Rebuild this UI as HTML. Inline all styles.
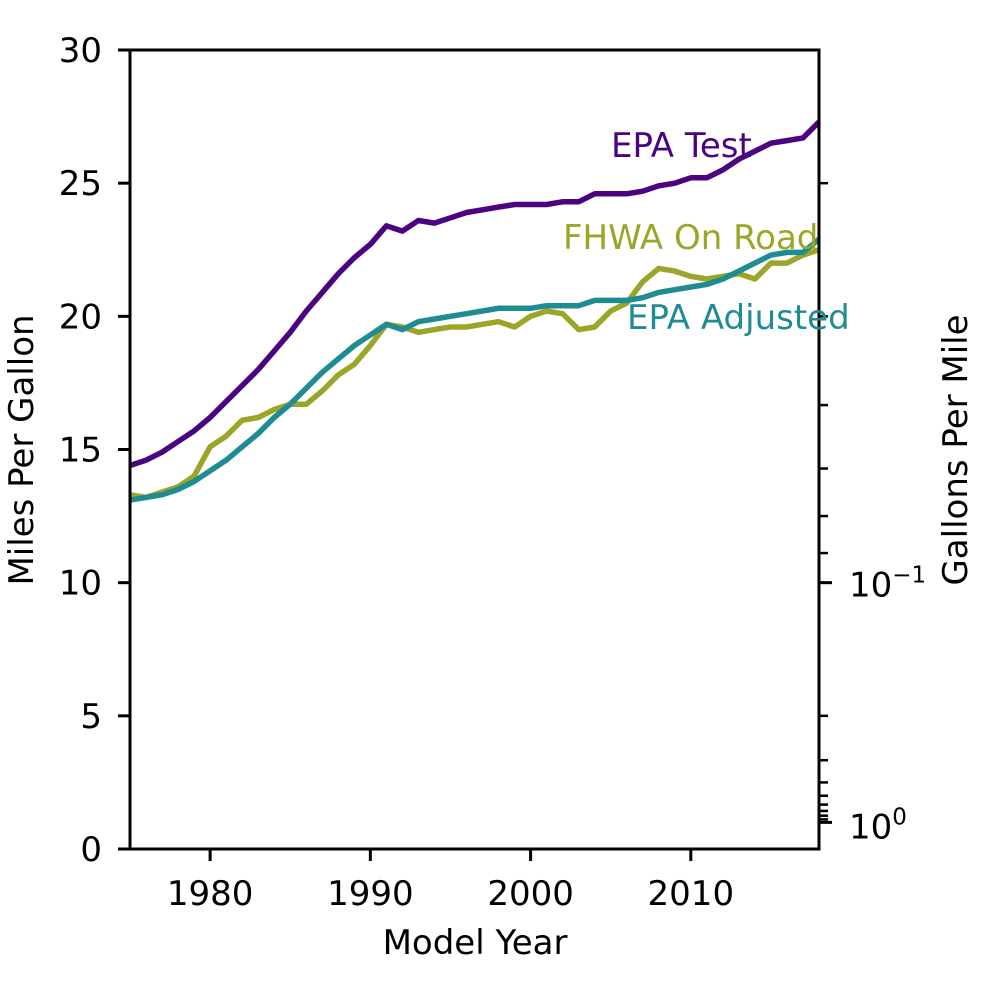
<!DOCTYPE html>
<html><head><meta charset="utf-8"><style>
html,body{margin:0;padding:0;background:#fff}
svg{display:block;font-family:"DejaVu Sans","Liberation Sans",sans-serif}
</style></head><body>
<svg id="chart" width="999" height="999" viewBox="0 0 999 999">
<g id="series"></g>
<g id="axes"></g>
</svg>
<script>
const years = [];
for (let y = 1975; y <= 2018; y++) years.push(y);
const epaTest = [14.4,14.6,14.9,15.3,15.7,16.2,16.8,17.4,18.0,18.7,19.4,20.2,20.9,21.6,22.2,22.7,23.4,23.2,23.6,23.5,23.7,23.9,24.0,24.1,24.2,24.2,24.2,24.3,24.3,24.6,24.6,24.6,24.7,24.9,25.0,25.2,25.2,25.5,25.9,26.2,26.5,26.6,26.7,27.3];
const epaAdjusted = [13.1,13.2,13.3,13.5,13.8,14.2,14.6,15.1,15.6,16.2,16.7,17.3,17.9,18.4,18.9,19.3,19.7,19.5,19.8,19.9,20.0,20.1,20.2,20.3,20.3,20.3,20.4,20.4,20.4,20.6,20.6,20.6,20.7,20.9,21.0,21.1,21.2,21.4,21.7,22.0,22.3,22.4,22.4,22.9];
const fhwaOnRoad = [13.3,13.2,13.4,13.6,14.0,15.1,15.5,16.1,16.2,16.5,16.7,16.7,17.2,17.8,18.2,18.9,19.7,19.6,19.4,19.5,19.6,19.6,19.7,19.8,19.6,20.0,20.2,20.1,19.5,19.6,20.2,20.5,21.3,21.8,21.7,21.5,21.4,21.5,21.6,21.4,22.0,22.0,22.3,22.5];
const xTicks = [1980,1990,2000,2010];
const yTicks = [0,5,10,15,20,25,30];
const gpmTicks = [0.04,0.05,0.06,0.07,0.08,0.09,0.1,0.2,0.3,0.4,0.5,0.6,0.7,0.8,0.9,1.0];

const X0=130,X1=819,Y0=849,Y1=50;
const xs = v => X0 + (v-1975)/(2018-1975)*(X1-X0);
const ys = v => Y0 - v/30*(Y0-Y1);
const NS="http://www.w3.org/2000/svg";
function mk(tag, attrs, parent){const e=document.createElementNS(NS,tag);for(const k in attrs)e.setAttribute(k,attrs[k]);parent.appendChild(e);return e;}
const ser=document.getElementById('series'), ax=document.getElementById('axes');
const FS=34;

function line(data,color,name){
  const d=data.map((v,i)=>(i?'L':'M')+xs(years[i]).toFixed(1)+','+ys(v).toFixed(1)).join('');
  const p=mk('path',{d:d,fill:'none',stroke:color,'stroke-width':5.5,'stroke-linejoin':'round'},ser);
  
  
}
line(fhwaOnRoad,'#9ba528','line-fhwa-on-road');
line(epaAdjusted,'#1f8b93','line-epa-adjusted');
line(epaTest,'#4b0380','line-epa-test');

const fr=mk('rect',{x:X0,y:Y1,width:X1-X0,height:Y0-Y1,fill:'none',stroke:'#000','stroke-width':3},ax);



xTicks.forEach(t=>{
  mk('line',{x1:xs(t),x2:xs(t),y1:Y0,y2:Y0+12,stroke:'#000','stroke-width':3},ax);
  const tx=mk('text',{x:xs(t),y:905,'text-anchor':'middle','font-size':FS},ax);tx.textContent=t;
  
  
});
yTicks.forEach(t=>{
  mk('line',{x1:X0-12,x2:X0,y1:ys(t),y2:ys(t),stroke:'#000','stroke-width':3},ax);
  const tx=mk('text',{x:102,y:ys(t)+12,'text-anchor':'end','font-size':FS},ax);tx.textContent=t;
  
  
});
gpmTicks.forEach(g=>{
  const major=(g===0.1||g===1.0);
  mk('line',{x1:X1,x2:X1+(major?13:9),y1:ys(1/g),y2:ys(1/g),stroke:'#000','stroke-width':major?3:2.5},ax);
});
function rlab(y,txt){
  const t=mk('text',{x:849,y:y,'font-size':FS},ax);
  t.innerHTML=txt;
  
  
}
rlab(ys(10)+14,'10<tspan dy="-14" font-size="23">−1</tspan>');
rlab(ys(1)+16,'10<tspan dy="-14" font-size="23">0</tspan>');

function lab(x,y,txt,name,extra){
  const t=mk('text',Object.assign({x:x,y:y,'font-size':FS},extra||{}),ax);t.textContent=txt;
  
  
}
lab(475,954,'Model Year','x-axis-title',{'text-anchor':'middle'});
lab(33,450,'Miles Per Gallon','y-axis-title',{'text-anchor':'middle',transform:'rotate(-90 33 450)'});
lab(967,450,'Gallons Per Mile','right-axis-title',{'text-anchor':'middle',transform:'rotate(-90 967 450)'});
lab(611,157,'EPA Test','label-epa-test',{fill:'#4b0380'});
lab(563,249,'FHWA On Road','label-fhwa-on-road',{fill:'#9ba528'});
lab(627,329,'EPA Adjusted','label-epa-adjusted',{fill:'#1f8b93'});
</script>
</body></html>
